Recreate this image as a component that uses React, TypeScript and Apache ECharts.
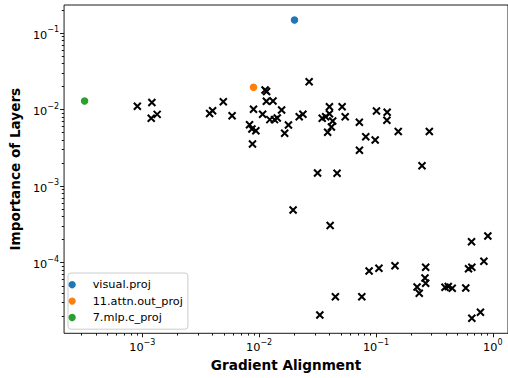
import React, { useEffect, useRef } from "react";
import * as echarts from "echarts";

// ---- data ----
const legendNames = ["visual.proj", "11.attn.out_proj", "7.mlp.c_proj"];
const legendColors = ["#1f77b4", "#ff7f0e", "#2ca02c"];
const visualProj = [0.02007, 0.1478];
const attnOutProj = [0.008948, 0.01953];
const mlpCProj = [0.0003206, 0.01294];

const crossX = [
  0.000907, 0.001208, 0.001192, 0.00134, 0.003769, 0.003996, 0.004934, 0.005869,
  0.008275, 0.00867, 0.009376, 0.00877, 0.00895, 0.01071, 0.01124, 0.01158,
  0.01153, 0.01314, 0.01234, 0.01353, 0.01429, 0.01557, 0.01782, 0.01654,
  0.02203, 0.02369, 0.02679, 0.03466, 0.0371, 0.03996, 0.03996, 0.04263,
  0.04156, 0.03859, 0.05131, 0.05451, 0.07205, 0.08177, 0.09845, 0.07221,
  0.101, 0.1247, 0.124, 0.1551, 0.2862, 0.2477, 0.03162, 0.04645,
  0.01953, 0.04052, 0.9071, 0.6574, 0.8388, 0.0873, 0.106, 0.1455,
  0.2663, 0.2627, 0.2663, 0.2247, 0.2346, 0.3897, 0.4155, 0.4494,
  0.5869, 0.6199, 0.6612, 0.04494, 0.07564, 0.03307, 0.6612, 0.7836,
];
const crossY = [
  0.01107, 0.01237, 0.00769, 0.00867, 0.00889, 0.009665, 0.01264, 0.00829,
  0.006326, 0.005575, 0.0053, 0.003552, 0.01011, 0.0087, 0.01802, 0.01722,
  0.01286, 0.01294, 0.007396, 0.007396, 0.00776, 0.00987, 0.006288, 0.004898,
  0.00807, 0.0087, 0.02305, 0.00769, 0.00807, 0.01087, 0.008806, 0.00709,
  0.00592, 0.005047, 0.01087, 0.00807, 0.00682, 0.00442, 0.004005, 0.002938,
  0.00958, 0.00921, 0.007245, 0.00517, 0.00517, 0.001849, 0.001484, 0.001471,
  0.000488, 0.000306, 0.0002233, 0.0001875, 0.0001046, 0.0000779, 0.0000845, 0.0000911,
  0.0000871, 0.0000632, 0.0000538, 0.0000482, 0.0000399, 0.0000477, 0.0000489, 0.0000465,
  0.0000467, 0.0000833, 0.0000871, 0.000036, 0.000036, 0.00002076, 0.00001879, 0.00002251,
];

const xMin = 0.000214;
const xMax = 1.349;
const yMin = 0.00001197;
const yMax = 0.2323;

const xTickValues = [0.001, 0.01, 0.1, 1];
const xTickExponents = ["\u22123", "\u22122", "\u22121", "0"];
const xMinorTicks = [
  0.0003, 0.0004, 0.0005, 0.0006, 0.0007, 0.0008, 0.0009,
  0.002, 0.003, 0.004, 0.005, 0.006, 0.007, 0.008, 0.009,
  0.02, 0.03, 0.04, 0.05, 0.06, 0.07, 0.08, 0.09,
  0.2, 0.3, 0.4, 0.5, 0.6, 0.7, 0.8, 0.9,
];
const yTickValues = [0.0001, 0.001, 0.01, 0.1];
const yTickExponents = ["\u22124", "\u22123", "\u22122", "\u22121"];
const yMinorTicks = [
  0.00002, 0.00003, 0.00004, 0.00005, 0.00006, 0.00007, 0.00008, 0.00009,
  0.0002, 0.0003, 0.0004, 0.0005, 0.0006, 0.0007, 0.0008, 0.0009,
  0.002, 0.003, 0.004, 0.005, 0.006, 0.007, 0.008, 0.009,
  0.02, 0.03, 0.04, 0.05, 0.06, 0.07, 0.08, 0.09,
  0.2,
];

const FONT = "DejaVu Sans";

function labelFor(values: number[], exps: string[]) {
  return (v: number) => {
    for (let i = 0; i < values.length; i++) {
      if (Math.abs(Math.log10(v) - Math.log10(values[i])) < 1e-6) return "{b|10}{s|" + exps[i] + "}";
    }
    return "";
  };
}

const richSup = {
  b: { fontFamily: FONT, fontSize: 11.3, color: "#000", lineHeight: 15, verticalAlign: "bottom" },
  s: { fontFamily: FONT, fontSize: 8, color: "#000", lineHeight: 9, verticalAlign: "top" },
};

export default function App() {
  const ref = useRef<HTMLDivElement>(null);
  useEffect(() => {
    if (!ref.current) return;
    const chart = echarts.init(ref.current, null, { renderer: "svg" });
    const crossData = crossX.map((x, i) => [x, crossY[i]]);
    const tickLine = { color: "#000", width: 0.9 };
    const axisCommonX = { type: "log", logBase: 10, min: xMin, max: xMax, gridIndex: 0, position: "bottom" };
    const axisCommonY = { type: "log", logBase: 10, min: yMin, max: yMax, gridIndex: 0, position: "left" };
    chart.setOption({
      animation: false,
      grid: {
        left: 62,
        top: 5,
        right: -2.4,
        bottom: 44.7,
        show: true,
        borderColor: "#000",
        borderWidth: 0.9,
        backgroundColor: "transparent",
      },
      legend: {
        orient: "vertical",
        left: 68,
        top: 273,
        data: legendNames,
        icon: "circle",
        itemWidth: 31,
        itemHeight: 7.3,
        itemGap: 5.4,
        padding: [6.2, 5, 6.2, 0.5],
        backgroundColor: "rgba(255,255,255,0.8)",
        borderColor: "#cccccc",
        borderWidth: 1,
        borderRadius: 3,
        selectedMode: false,
        itemStyle: { opacity: 1 },
        textStyle: { fontFamily: FONT, fontSize: 11.3, color: "#000", lineHeight: 7.3 },
      },
      xAxis: [
        {
          ...axisCommonX,
          name: "Gradient Alignment",
          nameLocation: "middle",
          nameGap: 24,
          nameTextStyle: { fontFamily: FONT, fontSize: 13.6, fontWeight: "bold", color: "#000" },
          axisLine: { show: false },
          splitLine: { show: false },
          axisTick: { show: true, customValues: xTickValues, length: 4, lineStyle: tickLine },
          axisLabel: {
            customValues: xTickValues,
            formatter: labelFor(xTickValues, xTickExponents),
            rich: richSup,
            fontFamily: FONT,
            fontSize: 11.3,
            color: "#000",
            margin: 5,
          },
        },
        {
          ...axisCommonX,
          axisLine: { show: false },
          splitLine: { show: false },
          axisTick: { show: true, customValues: xMinorTicks, length: 2.3, lineStyle: tickLine },
          axisLabel: { show: false },
        },
      ],
      yAxis: [
        {
          ...axisCommonY,
          name: "Importance of Layers",
          nameLocation: "middle",
          nameGap: 40,
          nameTextStyle: { fontFamily: FONT, fontSize: 13.6, fontWeight: "bold", color: "#000" },
          axisLine: { show: false },
          splitLine: { show: false },
          axisTick: { show: true, customValues: yTickValues, length: 4, lineStyle: tickLine },
          axisLabel: {
            customValues: yTickValues,
            formatter: labelFor(yTickValues, yTickExponents),
            rich: richSup,
            fontFamily: FONT,
            fontSize: 11.3,
            color: "#000",
            margin: 5,
          },
        },
        {
          ...axisCommonY,
          axisLine: { show: false },
          splitLine: { show: false },
          axisTick: { show: true, customValues: yMinorTicks, length: 2.3, lineStyle: tickLine },
          axisLabel: { show: false },
        },
      ],
      series: [
        {
          type: "scatter",
          name: "layers",
          data: crossData,
          symbol: "path://M0,0L10,10M0,10L10,0",
          symbolSize: 7,
          itemStyle: { color: "#000", borderColor: "#000", borderWidth: 2, opacity: 1 },
          emphasis: { disabled: true },
          z: 2,
        },
        ...legendNames.map((name, i) => ({
          type: "scatter",
          name,
          data: [[visualProj, attnOutProj, mlpCProj][i]],
          symbol: "circle",
          symbolSize: 7.5,
          itemStyle: { color: legendColors[i], opacity: 1 },
          emphasis: { disabled: true },
          z: 3,
        })),
      ],
    });
    return () => chart.dispose();
  }, []);
  return (
    <div style={{ position: "fixed", left: 0, top: 0, width: 508, height: 378, background: "#fff" }}>
      <div ref={ref} style={{ width: 508, height: 378 }} />
    </div>
  );
}
